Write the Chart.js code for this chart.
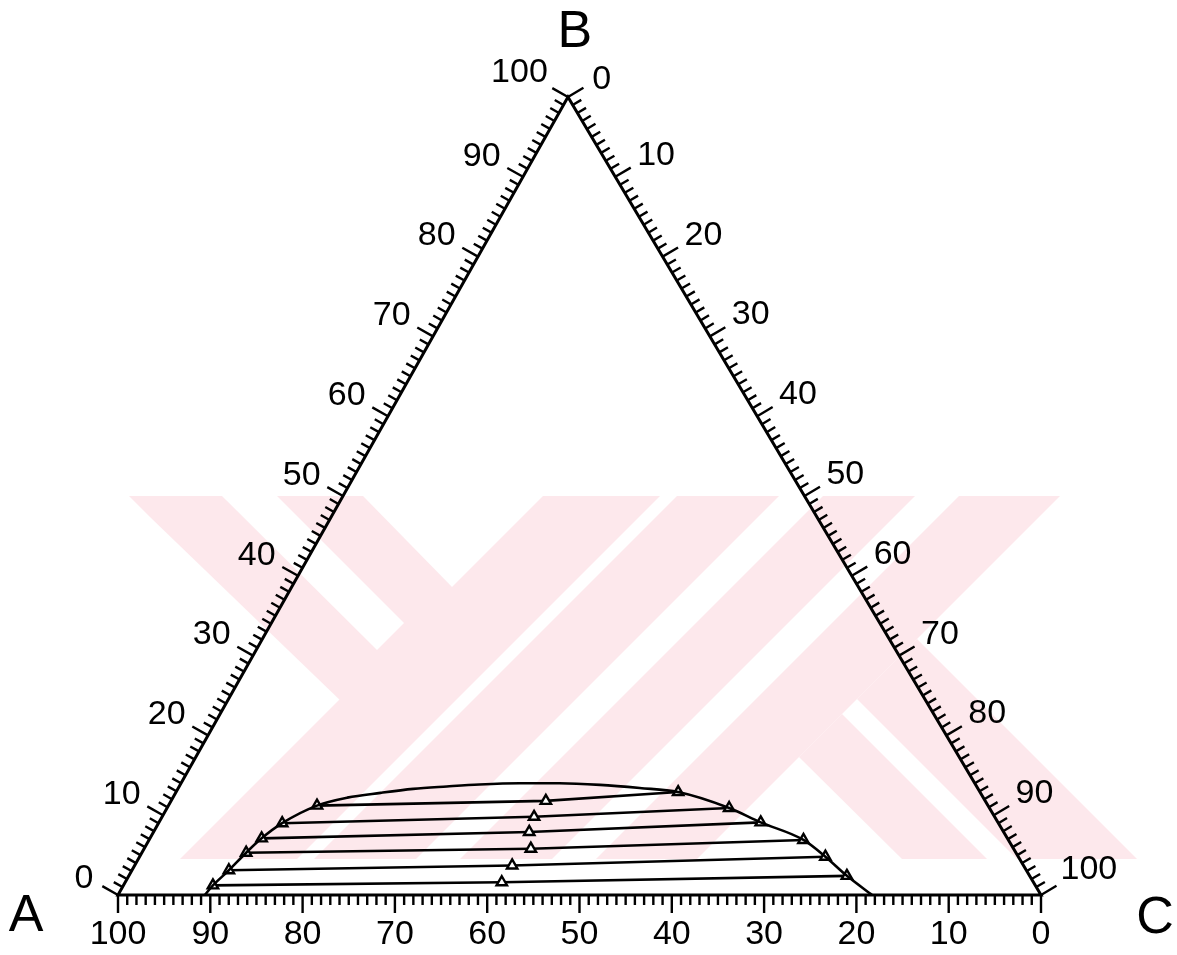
<!DOCTYPE html>
<html>
<head>
<meta charset="utf-8">
<script src="https://cdn.jsdelivr.net/npm/chart.js@4.4.0/dist/chart.umd.min.js"></script>
<style>
  html, body { margin: 0; padding: 0; background: #fff; }
  #wrap { width: 1177px; height: 955px; position: relative; }
</style>
</head>
<body>
<div id="wrap"><canvas id="chart" width="1177" height="955"></canvas></div>
<script>
// Corner components of the ternary diagram
const components = ['A', 'B', 'C'];

// Scale labels every 10 %
const tickLabels = ['0', '10', '20', '30', '40', '50', '60', '70', '80', '90', '100'];

// Binodal (solubility) curve, mass % of B and C; A = 100 - B - C
const binodalB = [0.0, 1.2, 3.1, 5.3, 7.1, 9.0, 11.2, 12.2, 12.8, 13.3, 13.6, 13.85, 14.0, 14.0, 13.8, 13.4, 12.9, 10.9, 9.1, 6.9, 4.8, 2.4, 0.0];
const binodalC = [9.4, 9.7, 10.5, 11.3, 12.1, 13.4, 16.1, 18.9, 22.2, 25.5, 29.0, 32.4, 36.7, 41.0, 45.5, 50.0, 54.4, 60.9, 65.2, 70.9, 74.3, 77.8, 81.7];

// Tie lines: A-rich phase, mixture point, C-rich phase (mass % B and C)
const tieLeftB  = [11.2, 9.0, 7.1, 5.3, 3.1, 1.2];
const tieLeftC  = [16.1, 13.4, 12.1, 11.3, 10.5, 9.7];
const tieMidB   = [11.8, 9.8, 7.9, 5.8, 3.7, 1.6];
const tieMidC   = [40.6, 40.3, 40.7, 41.9, 40.9, 40.8];
const tieRightB = [12.9, 10.9, 9.1, 6.9, 4.8, 2.4];
const tieRightC = [54.4, 60.9, 65.2, 70.9, 74.3, 77.8];

// Horizontal position of the B apex along the base (in % of the base length)
const APEX_SHIFT = 48.75;

// ternary (B, C) -> cartesian plot units: base 0..100, height 0..100
function toXY(b, c) {
  return { x: c + b * APEX_SHIFT / 100, y: b };
}

// Background emblem (light pink stripes), canvas pixels
const EMBLEM_PINK = '#fde8ec';
const emblemPink = [
  [[129, 496], [363, 496], [453, 588], [343, 703], [150, 517], [129, 496]],
  [[543, 496], [660, 496], [297, 859], [180, 859]],
  [[677, 496], [779, 496], [416, 859], [314, 859]],
  [[823, 496], [915, 496], [552, 859], [460, 859]],
  [[959, 496], [1060, 496], [697, 859], [596, 859]],
  [[799, 757], [842, 714], [987, 859], [902, 859]],
  [[857, 699], [917, 639], [1137, 859], [1017, 859]]
];
const emblemGap = [[222, 496], [277, 496], [404, 623], [377, 650]];

const FONT = '"Liberation Sans", Arial, sans-serif';

const ternaryFrame = {
  id: 'ternaryFrame',
  beforeDraw(chart) {
    const ctx = chart.ctx;
    ctx.save();
    ctx.fillStyle = '#fff';
    ctx.fillRect(0, 0, chart.width, chart.height);
    const poly = (pts) => {
      ctx.beginPath();
      pts.forEach((p, i) => (i ? ctx.lineTo(p[0], p[1]) : ctx.moveTo(p[0], p[1])));
      ctx.closePath();
      ctx.fill();
    };
    ctx.fillStyle = EMBLEM_PINK;
    poly(emblemPink[0]);
    ctx.fillStyle = '#fff';
    poly(emblemGap);
    ctx.fillStyle = EMBLEM_PINK;
    emblemPink.slice(1).forEach(poly);
    ctx.restore();
  },
  beforeDatasetsDraw(chart) {
    const ctx = chart.ctx;
    const xs = chart.scales.x, ys = chart.scales.y;
    const P = (b, c) => {
      const q = toXY(b, c);
      return [xs.getPixelForValue(q.x), ys.getPixelForValue(q.y)];
    };
    const vA = P(0, 0), vB = P(100, 0), vC = P(0, 100);

    ctx.save();
    ctx.strokeStyle = '#000';
    ctx.fillStyle = '#000';
    ctx.lineCap = 'butt';
    ctx.lineJoin = 'miter';

    // triangle outline
    ctx.lineWidth = 3;
    ctx.beginPath();
    ctx.moveTo(vA[0], vA[1]);
    ctx.lineTo(vB[0], vB[1]);
    ctx.lineTo(vC[0], vC[1]);
    ctx.closePath();
    ctx.stroke();

    const sides = [
      { p1: vA, p2: vC, opp: vB, at: i => [0, i], value: i => 100 - i },   // base: % A
      { p1: vA, p2: vB, opp: vC, at: i => [i, 0], value: i => i },         // left: % B
      { p1: vB, p2: vC, opp: vA, at: i => [100 - i, i], value: i => i }    // right: % C
    ];

    const size = 34;
    const capH = size * 0.716;
    ctx.font = size + 'px ' + FONT;
    ctx.textAlign = 'center';
    ctx.textBaseline = 'alphabetic';

    sides.forEach(s => {
      const ex = s.p2[0] - s.p1[0], ey = s.p2[1] - s.p1[1];
      const L = Math.hypot(ex, ey);
      let nx = ey / L, ny = -ex / L;
      if (nx * (s.opp[0] - s.p1[0]) + ny * (s.opp[1] - s.p1[1]) > 0) { nx = -nx; ny = -ny; }

      ctx.lineWidth = 2.4;
      ctx.beginPath();
      for (let i = 0; i <= 100; i++) {
        const [bv, cv] = s.at(i);
        const p = P(bv, cv);
        const len = i % 10 === 0 ? 18 : 10;
        ctx.moveTo(p[0], p[1]);
        ctx.lineTo(p[0] + nx * len, p[1] + ny * len);
      }
      ctx.stroke();

      for (let i = 0; i <= 100; i += 10) {
        const [bv, cv] = s.at(i);
        const p = P(bv, cv);
        const txt = tickLabels[s.value(i) / 10];
        const w = ctx.measureText(txt).width;
        const d = 25 + (w / 2) * Math.abs(nx) + (capH / 2) * Math.abs(ny);
        const cx = p[0] + nx * d, cy = p[1] + ny * d;
        ctx.fillText(txt, cx, cy + capH / 2);
      }
    });

    // corner component names
    const big = 52;
    const bigCap = big * 0.716;
    ctx.font = big + 'px ' + FONT;
    const corners = [
      { v: vA, dx: -92, dy: 17 },
      { v: vB, dx: 7, dy: -69 },
      { v: vC, dx: 114, dy: 19 }
    ];
    corners.forEach((k, i) => {
      ctx.fillText(components[i], k.v[0] + k.dx, k.v[1] + k.dy + bigCap / 2);
    });
    ctx.restore();
  }
};

const datasets = [{
  label: 'binodal',
  data: binodalB.map((b, i) => toXY(b, binodalC[i])),
  showLine: true,
  borderColor: '#000',
  borderWidth: 2.6,
  pointRadius: 0,
  cubicInterpolationMode: 'monotone',
  clip: false
}];

for (let i = 0; i < tieLeftB.length; i++) {
  datasets.push({
    label: 'tie ' + (i + 1),
    data: [
      toXY(tieLeftB[i], tieLeftC[i]),
      toXY(tieMidB[i], tieMidC[i]),
      toXY(tieRightB[i], tieRightC[i])
    ],
    showLine: true,
    borderColor: '#000',
    borderWidth: 2.6,
    pointStyle: 'triangle',
    pointRadius: 6,
    pointBorderWidth: 2.4,
    pointBorderColor: '#000',
    pointBackgroundColor: '#fff',
    clip: false
  });
}

new Chart(document.getElementById('chart'), {
  type: 'scatter',
  data: { datasets },
  options: {
    responsive: false,
    animation: false,
    layout: { padding: { left: 118, right: 136, top: 97, bottom: 60 } },
    scales: {
      x: { type: 'linear', min: 0, max: 100, display: false },
      y: { type: 'linear', min: 0, max: 100, display: false }
    },
    plugins: { legend: { display: false }, tooltip: { enabled: false } },
    events: []
  },
  plugins: [ternaryFrame]
});
</script>
</body>
</html>
